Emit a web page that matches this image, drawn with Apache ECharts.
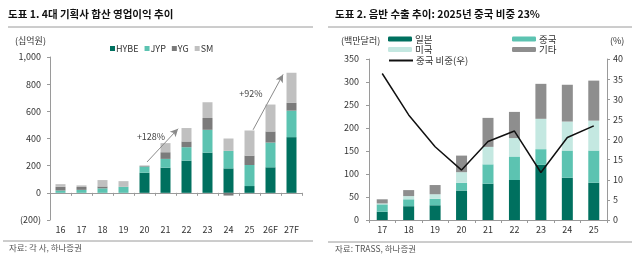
<!DOCTYPE html>
<html><head><meta charset="utf-8">
<script src="https://cdn.jsdelivr.net/npm/echarts@6/dist/echarts.min.js"></script>
<style>html,body{margin:0;padding:0;background:#fff}#c{width:640px;height:264px}</style>
</head><body><div id="c"></div>
<script>
// ---- Chart 1 data (십억원) ----
const cats1 = ['16','17','18','19','20','21','22','23','24','25','26F','27F'];
const hybe = [0,0,0,0,148,185,237,296,180,50,188,410];
const jyp  = [17,22,33,44,45,65,99,168,129,155,182,195];
const yg   = [27,21,14,0,4,49,42,87,-20,69,82,57];
const sm   = [20,12,47,42,5,67,99,116,91,185,198,222];
const ticks1 = [-200,0,200,400,600,800,1000];
// growth annotations: label text, label position (category index, value), arrow from, arrow to
const notes1 = [
  {text:'+128%', at:[4.31, 412], from:[4.12, 227], to:[5.6, 472]},
  {text:'+92%',  at:[9.07, 731], from:[9.17, 464], to:[10.6, 872]}
];

// ---- Chart 2 data (백만달러, %) ----
const cats2 = ['17','18','19','20','21','22','23','24','25'];
const japan = [18,30,32,64,79,87,120,92,81];
const china = [16,15,14,17,42,51,34,59,70];
const usa   = [2,7,10,23,38,40,66,63,65];
const etc   = [9,13,20,36,63,57,76,80,87];
const chinaShare = [36.4,26.1,18.2,12.4,19.5,22.1,11.8,20.5,23.4];

const FONT = '"Noto Sans CJK KR", "Noto Sans", sans-serif';
const C_DARK = '#00705f', C_MID = '#5cc3b1', C_LIGHT = '#c4e8e1', C_GRAY = '#8e8e8e';
const C_YG = '#7b7b7b', C_SM = '#c0c0c0';
const axisCol = '#9a9a9a', txt = '#333';
const FS = 9;

const chart = echarts.init(document.getElementById('c'), null, {renderer:'canvas'});
const fmt1 = v => v < 0 ? '(' + (-v) + ')' : (v >= 1000 ? String(v).replace(/\B(?=(\d{3})+(?!\d))/g, ',') : String(v));

const bar1 = (name, data, color) => ({
  name, type:'bar', stack:'a', xAxisIndex:0, yAxisIndex:0, data, barWidth:10,
  itemStyle:{color}, emphasis:{disabled:true}
});
const bar2 = (name, data, color) => ({
  name, type:'bar', stack:'b', xAxisIndex:1, yAxisIndex:1, data, barWidth:11,
  itemStyle:{color}, emphasis:{disabled:true}
});
const legText = {fontSize:9.5, color:txt, fontFamily:FONT, lineHeight:10, padding:[0,0,0,-2]};
const leg2 = (item, left, top) => ({
  left, top, padding:0, itemWidth:24, itemHeight:5, textStyle:legText, data:[item]
});
const lbl = {fontSize:FS, color:txt, fontFamily:FONT};

const option = {
  animation:false,
  textStyle:{fontFamily:FONT},
  grid:[
    {left:50, top:57, width:252, height:163},
    {left:369, top:59, width:238, height:161}
  ],
  legend:[
    {left:110, top:44, padding:0, itemWidth:5, itemHeight:5, itemGap:6, icon:'rect',
     textStyle:{fontSize:FS, color:txt, fontFamily:FONT, padding:[0,0,0,-4]},
     data:['HYBE','JYP','YG','SM']},
    leg2('일본', 388, 34),
    leg2('미국', 388, 44.5),
    leg2({name:'중국 비중(우)', itemStyle:{opacity:0}}, 388, 55.5),
    leg2('중국', 512, 34),
    leg2('기타', 512, 44.5)
  ],
  xAxis:[
    {type:'category', gridIndex:0, data:cats1,
     axisLine:{onZero:true, lineStyle:{color:axisCol}},
     axisTick:{show:true, length:3, lineStyle:{color:axisCol}},
     axisLabel:Object.assign({margin:5, interval:0}, lbl)},
    {type:'category', gridIndex:1, data:cats2,
     axisLine:{lineStyle:{color:axisCol}},
     axisTick:{show:true, length:3, lineStyle:{color:axisCol}},
     axisLabel:Object.assign({margin:5, interval:0}, lbl)},
    // hidden value axis spanning the category bands, for annotations only
    {type:'value', gridIndex:0, min:-0.5, max:cats1.length - 0.5, show:false}
  ],
  yAxis:[
    {type:'value', gridIndex:0, min:ticks1[0], max:ticks1[ticks1.length-1], interval:200,
     splitLine:{show:false},
     axisLine:{show:true, onZero:false, lineStyle:{color:axisCol}},
     axisTick:{show:true, length:3, lineStyle:{color:axisCol}},
     axisLabel:Object.assign({formatter:fmt1, margin:9}, lbl)},
    {type:'value', gridIndex:1, min:0, max:350, interval:50,
     splitLine:{show:false},
     axisLine:{show:true, lineStyle:{color:axisCol}},
     axisTick:{show:true, length:3, lineStyle:{color:axisCol}},
     axisLabel:Object.assign({margin:10}, lbl)},
    {type:'value', gridIndex:1, position:'right', min:0, max:40, interval:5,
     splitLine:{show:false},
     axisLine:{show:true, lineStyle:{color:axisCol}},
     axisTick:{show:true, length:3, lineStyle:{color:axisCol}},
     axisLabel:Object.assign({margin:6}, lbl)}
  ],
  series:[
    bar1('HYBE', hybe, C_DARK),
    bar1('JYP', jyp, C_MID),
    bar1('YG', yg, C_YG),
    bar1('SM', sm, C_SM),
    {type:'scatter', xAxisIndex:2, yAxisIndex:0, data:[], silent:true,
     markLine:{silent:true, symbol:['none','arrow'], symbolSize:[6,8], animation:false,
       lineStyle:{color:'#8a8a8a', width:1, type:'solid'}, label:{show:false},
       data: notes1.map(n => [{coord:n.from}, {coord:n.to}])},
     markPoint:{silent:true, symbol:'rect', symbolSize:0, animation:false,
       label:Object.assign({show:true, position:'inside'}, lbl, {color:'#444'}),
       data: notes1.map(n => ({coord:n.at, value:n.text, label:{formatter:n.text}}))}
    },
    bar2('일본', japan, C_DARK),
    bar2('중국', china, C_MID),
    bar2('미국', usa, C_LIGHT),
    bar2('기타', etc, C_GRAY),
    {name:'중국 비중(우)', type:'line', xAxisIndex:1, yAxisIndex:2, data:chinaShare,
     symbol:'none', z:5, lineStyle:{color:'#111', width:1.5}, itemStyle:{color:'#111'},
     emphasis:{disabled:true}}
  ],
  graphic:[
    {type:'text', left:8, top:9, style:{text:'도표 1. 4대 기획사 합산 영업이익 추이', font:'bold 10.5px ' + FONT, fill:'#111'}},
    {type:'text', left:335, top:9, style:{text:'도표 2. 음반 수출 추이: 2025년 중국 비중 23%', font:'bold 10.5px ' + FONT, fill:'#111'}},
    {type:'line', shape:{x1:8, y1:27, x2:313, y2:27}, style:{stroke:'#9a9a9a', lineWidth:1}},
    {type:'line', shape:{x1:328, y1:27, x2:632, y2:27}, style:{stroke:'#9a9a9a', lineWidth:1}},
    {type:'line', shape:{x1:3, y1:241, x2:313, y2:241}, style:{stroke:'#9a9a9a', lineWidth:1}},
    {type:'line', shape:{x1:328, y1:242, x2:632, y2:242}, style:{stroke:'#9a9a9a', lineWidth:1}},
    {type:'text', left:15, top:36, style:{text:'(십억원)', font:'9px ' + FONT, fill:txt}},
    {type:'text', left:341, top:36, style:{text:'(백만달러)', font:'9px ' + FONT, fill:txt}},
    {type:'text', left:610, top:36, style:{text:'(%)', font:'9px ' + FONT, fill:txt}},
    {type:'text', left:9, top:244, style:{text:'자료: 각 사, 하나증권', font:'8.5px ' + FONT, fill:'#555'}},
    {type:'text', left:335, top:245, style:{text:'자료: TRASS, 하나증권', font:'8.5px ' + FONT, fill:'#555'}}
  ]
};
chart.setOption(option);
</script></body></html>
